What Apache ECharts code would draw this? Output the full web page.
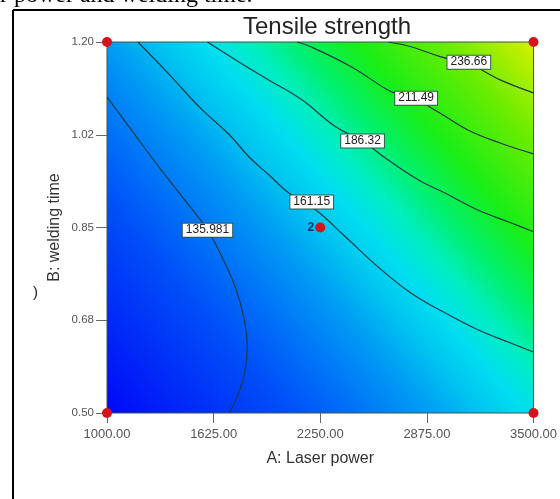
<!DOCTYPE html>
<html>
<head>
<meta charset="utf-8">
<script src="https://cdn.jsdelivr.net/npm/echarts@6/dist/echarts.min.js"></script>
<style>
html, body { margin: 0; padding: 0; background: #fff; }
#main { width: 560px; height: 499px; }
</style>
</head>
<body>
<div id="main"></div>
<script>
// axis ranges (A: laser power, B: welding time)
var xMin = 1000, xMax = 3500, xStep = 625;
var yMin = 0.5, yMax = 1.2, yStep = 0.175;

// contour lines, [laser power, welding time]
var c135 = [[1000,1.096],[1134,1.038],[1309,0.962],[1455,0.902],[1589,0.845],[1688,0.785],[1758,0.732],[1804,0.676],[1822,0.628],[1810,0.581],[1775,0.540],[1717,0.5]];
var c161 = [[1181,1.2],[1367,1.138],[1542,1.077],[1717,1.025],[1833,0.983],[1950,0.949],[2066,0.915],[2224,0.883],[2399,0.832],[2591,0.775],[2783,0.726],[2981,0.689],[3174,0.657],[3366,0.632],[3500,0.615]];
var c186 = [[1589,1.2],[1775,1.162],[1950,1.128],[2142,1.091],[2340,1.040],[2498,1.013],[2632,0.981],[2824,0.940],[2981,0.915],[3174,0.883],[3366,0.859],[3500,0.842]];
var c211 = [[2113,1.2],[2195,1.191],[2434,1.153],[2667,1.106],[2812,1.091],[2941,1.068],[3115,1.034],[3308,1.009],[3500,0.989]];
var c236 = [[2649,1.2],[2783,1.191],[2958,1.172],[3121,1.159],[3308,1.128],[3500,1.104]];

// where the contour value boxes sit
var levelNames = ['135.981', '161.15', '186.32', '211.49', '236.66'];
var levelPos = [[1589,0.845],[2200,0.898],[2498,1.013],[2812,1.094],[3121,1.162]];

// design points (corners + centre point, 2 replicates)
var designPts = [[1000,0.5],[1000,1.2],[3500,1.2],[3500,0.5],[2250,0.85]];

var myChart = echarts.init(document.getElementById('main'));

var font = 'Liberation Sans, Arial, sans-serif';
var lineColor = '#1d3b44';
function contour (d) {
  return {
    type: 'line',
    data: d,
    smooth: 0.4,
    symbol: 'none',
    silent: true,
    z: 3,
    lineStyle: { color: lineColor, width: 1.2 }
  };
}

var option = {
  animation: false,
  title: {
    text: 'Tensile strength',
    left: 322,
    textAlign: 'center',
    top: 10,
    textStyle: { fontFamily: font, fontSize: 24, fontWeight: 'normal', color: '#222' }
  },
  grid: {
    left: 107,
    top: 42,
    right: 24,
    bottom: 86,
    show: true,
    borderColor: '#3d5650',
    borderWidth: 1,
    backgroundColor: new echarts.graphic.LinearGradient(0, 1, 1, 0, [
      { offset: 0, color: '#0008f8' },
      { offset: 0.25, color: '#0050f8' },
      { offset: 0.33, color: '#0070f8' },
      { offset: 0.43, color: '#009cf4' },
      { offset: 0.5, color: '#00c4f0' },
      { offset: 0.56, color: '#00def0' },
      { offset: 0.62, color: '#00eec0' },
      { offset: 0.68, color: '#00f070' },
      { offset: 0.76, color: '#18ee18' },
      { offset: 0.88, color: '#6aec00' },
      { offset: 1, color: '#d8f000' }
    ])
  },
  xAxis: {
    type: 'value',
    min: xMin,
    max: xMax,
    interval: xStep,
    name: 'A: Laser power',
    nameLocation: 'middle',
    nameGap: 38,
    nameTextStyle: { fontFamily: font, fontSize: 16, color: '#333' },
    splitLine: { show: false },
    axisLine: { show: false },
    axisTick: { show: true, length: 10, lineStyle: { color: '#666' } },
    axisLabel: {
      margin: 15,
      fontFamily: font,
      fontSize: 13,
      color: '#555',
      formatter: function (v) { return v.toFixed(2); }
    }
  },
  yAxis: {
    type: 'value',
    min: yMin,
    max: yMax,
    interval: yStep,
    name: 'B: welding time',
    nameLocation: 'middle',
    nameGap: 44,
    nameMoveOverlap: false,
    nameTextStyle: { fontFamily: font, fontSize: 16, color: '#333' },
    splitLine: { show: false },
    axisLine: { show: false },
    axisTick: { show: true, length: 11, lineStyle: { color: '#666' } },
    axisLabel: {
      margin: 13,
      fontFamily: font,
      fontSize: 11.5,
      color: '#555',
      formatter: function (v) { return v.toFixed(2); }
    }
  },
  graphic: [
    // bits of the surrounding document page
    { type: 'line', shape: { x1: 13, y1: 10, x2: 560, y2: 10 }, style: { stroke: '#000', lineWidth: 2 } },
    { type: 'line', shape: { x1: 13, y1: 10, x2: 13, y2: 499 }, style: { stroke: '#000', lineWidth: 2 } },
    { type: 'text', left: 0, top: -16, style: { text: 'r power and welding time.', font: '24px "Liberation Serif", "Times New Roman", serif', fill: '#000' } },
    { type: 'text', left: 33, top: 285, style: { text: ')', font: '15px "Liberation Sans", Arial, sans-serif', fill: '#222' } }
  ],
  series: [
    contour(c135),
    contour(c161),
    contour(c186),
    contour(c211),
    contour(c236),
    {
      type: 'scatter',
      silent: true,
      z: 5,
      symbolSize: 0,
      itemStyle: { opacity: 1 },
      data: levelPos.map(function (p, i) { return [p[0], p[1], levelNames[i]]; }),
      label: {
        show: true,
        position: 'inside',
        formatter: function (p) { return p.data[2]; },
        backgroundColor: '#ffffff',
        borderColor: '#2e5a4e',
        borderWidth: 1,
        padding: [1, 3, 0, 3],
        fontFamily: font,
        fontSize: 12,
        color: '#222'
      }
    },
    {
      type: 'scatter',
      silent: true,
      clip: false,
      z: 6,
      symbolSize: 10,
      itemStyle: { color: '#d4141a', opacity: 1 },
      data: designPts.map(function (p, i) {
        if (i === 4) {
          return {
            value: p,
            label: {
              show: true,
              position: 'left',
              distance: 1,
              formatter: '2',
              fontFamily: font,
              fontSize: 12,
              fontWeight: 'bold',
              color: '#1c2f6a'
            }
          };
        }
        return p;
      })
    }
  ]
};

myChart.setOption(option);
</script>
</body>
</html>
